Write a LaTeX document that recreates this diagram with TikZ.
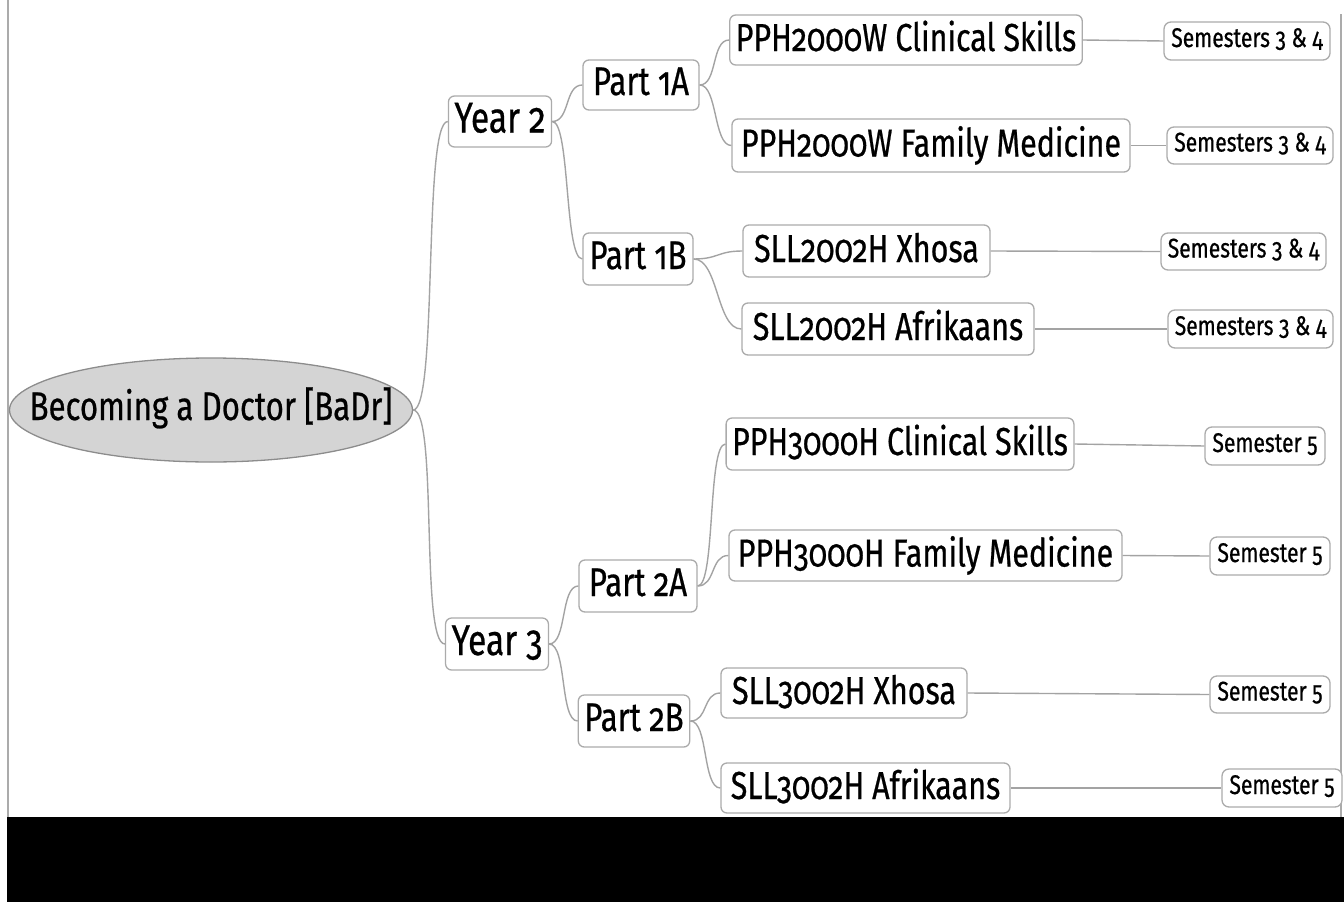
\documentclass[tikz,border=0pt]{standalone}
\usepackage{fontspec}
\setmainfont{Fira Sans}[Numbers=OldStyle,FakeStretch=0.78,FakeBold=0.6]
\usetikzlibrary{shapes.geometric}

\definecolor{linegray}{HTML}{A3A3A3}
\definecolor{boxgray}{HTML}{ABABAB}
\definecolor{rootfill}{HTML}{D4D4D4}
\definecolor{rootline}{HTML}{8C8C8C}

\tikzset{
  box/.style={draw=boxgray, line width=1.3pt, rounded corners=6pt, fill=white,
    inner xsep=6pt, inner ysep=0pt},
  rootnode/.style={ellipse, draw=rootline, fill=rootfill, line width=1.3pt, inner sep=0pt},
  roottext/.style={inner sep=0pt, text height=28pt, text depth=8pt,
    font=\fontsize{40}{40}\selectfont},
  yearbox/.style={box, text height=30pt, text depth=8pt, font=\fontsize{43}{43}\selectfont},
  partbox/.style={box, text height=28pt, text depth=8pt, font=\fontsize{40}{40}\selectfont},
  coursebox/.style={box, text height=28pt, text depth=6pt, font=\fontsize{39}{39}\selectfont},
  termbox/.style={box, rounded corners=7pt, text height=19pt, text depth=7pt,
    font=\fontsize{27}{27}\selectfont},
  link/.style={draw=linegray, line width=1.4pt},
}

\begin{document}
\begin{tikzpicture}[x=1pt,y=-1pt]
  \useasboundingbox (0,0) rectangle (1344,902);
  \fill[black] (7,817) rectangle (1344,902);
  \draw[boxgray, line width=2pt] (8,0) -- (8,817);
  \draw[boxgray, line width=2pt] (1341,14) -- (1341,817);

  % tree
  \node[rootnode, minimum width=403pt, minimum height=104pt] (badr) at (211,410) {};
  \node[roottext] (badrtext) at (badr.center) {Becoming a Doctor [BaDr]};

  \node[yearbox, minimum width=102pt, minimum height=51pt] (yeartwo) at (500,121.5) {Year 2};
  \node[yearbox, minimum width=100pt, minimum height=52pt] (yearthree) at (497,644) {Year 3};

  \node[partbox, minimum width=116pt, minimum height=50pt] (parta) at (641,85) {Part 1A};
  \node[partbox, minimum width=110pt, minimum height=52pt] (partb) at (638,259) {Part 1B};
  \node[partbox, minimum width=118pt, minimum height=52pt] (partc) at (638,586) {Part 2A};
  \node[partbox, minimum width=110pt, minimum height=52pt] (partd) at (634,721) {Part 2B};

  \node[coursebox, minimum width=348pt, minimum height=50pt] (clinone) at (906,40) {PPH2000W Clinical Skills};
  \node[coursebox, minimum width=398pt, minimum height=53pt] (famone) at (931,145.5) {PPH2000W Family Medicine};
  \node[coursebox, minimum width=247pt, minimum height=52pt] (xhoone) at (866.5,251) {SLL2002H Xhosa};
  \node[coursebox, minimum width=292pt, minimum height=52pt] (afrone) at (888,329) {SLL2002H Afrikaans};
  \node[coursebox, minimum width=342pt, minimum height=52pt] (clintwo) at (900,444) {PPH3000H Clinical Skills};
  \node[coursebox, minimum width=393pt, minimum height=51pt] (famtwo) at (925.5,555.5) {PPH3000H Family Medicine};
  \node[coursebox, minimum width=246pt, minimum height=50pt] (xhotwo) at (844,693) {SLL3002H Xhosa};
  \node[coursebox, minimum width=289pt, minimum height=50pt] (afrtwo) at (865.5,788) {SLL3002H Afrikaans};

  \node[termbox, minimum width=166pt, minimum height=38pt] (semone) at (1247,41) {Semesters 3 \& 4};
  \node[termbox, minimum width=166pt, minimum height=37pt] (semtwo) at (1250,145.5) {Semesters 3 \& 4};
  \node[termbox, minimum width=165pt, minimum height=37pt] (semthree) at (1243.5,251.5) {Semesters 3 \& 4};
  \node[termbox, minimum width=165pt, minimum height=38pt] (semfour) at (1250.5,329) {Semesters 3 \& 4};
  \node[termbox, minimum width=120pt, minimum height=38pt] (semfive) at (1265,446) {Semester 5};
  \node[termbox, minimum width=120pt, minimum height=38pt] (semsix) at (1270,556) {Semester 5};
  \node[termbox, minimum width=120pt, minimum height=37pt] (semseven) at (1270,694.5) {Semester 5};
  \node[termbox, minimum width=120pt, minimum height=38pt] (semeight) at (1282,788) {Semester 5};

  % branches
  \draw[link] (badr.east) .. controls +(25,0) and +(-25,0) .. (yeartwo.west);
  \draw[link] (badr.east) .. controls +(25,0) and +(-25,0) .. (yearthree.west);
  \draw[link] (yeartwo.east) .. controls +(18,0) and +(-18,0) .. (parta.west);
  \draw[link] (yeartwo.east) .. controls +(18,0) and +(-18,0) .. (partb.west);
  \draw[link] (yearthree.east) .. controls +(18,0) and +(-18,0) .. (partc.west);
  \draw[link] (yearthree.east) .. controls +(18,0) and +(-18,0) .. (partd.west);
  \draw[link] (parta.east) .. controls +(18,0) and +(-18,0) .. (clinone.west);
  \draw[link] (parta.east) .. controls +(18,0) and +(-18,0) .. (famone.west);
  \draw[link] (partb.east) .. controls +(25,0) and +(-25,0) .. (xhoone.west);
  \draw[link] (partb.east) .. controls +(25,0) and +(-25,0) .. (afrone.west);
  \draw[link] (partc.east) .. controls +(18,0) and +(-18,0) .. (clintwo.west);
  \draw[link] (partc.east) .. controls +(18,0) and +(-18,0) .. (famtwo.west);
  \draw[link] (partd.east) .. controls +(18,0) and +(-18,0) .. (xhotwo.west);
  \draw[link] (partd.east) .. controls +(18,0) and +(-18,0) .. (afrtwo.west);

  % semesters
  \draw[link] (clinone.east) -- (semone.west);
  \draw[link] (famone.east) -- (semtwo.west);
  \draw[link] (xhoone.east) -- (semthree.west);
  \draw[link] (afrone.east) -- (semfour.west);
  \draw[link] (clintwo.east) -- (semfive.west);
  \draw[link] (famtwo.east) -- (semsix.west);
  \draw[link] (xhotwo.east) -- (semseven.west);
  \draw[link] (afrtwo.east) -- (semeight.west);
\end{tikzpicture}
\end{document}
